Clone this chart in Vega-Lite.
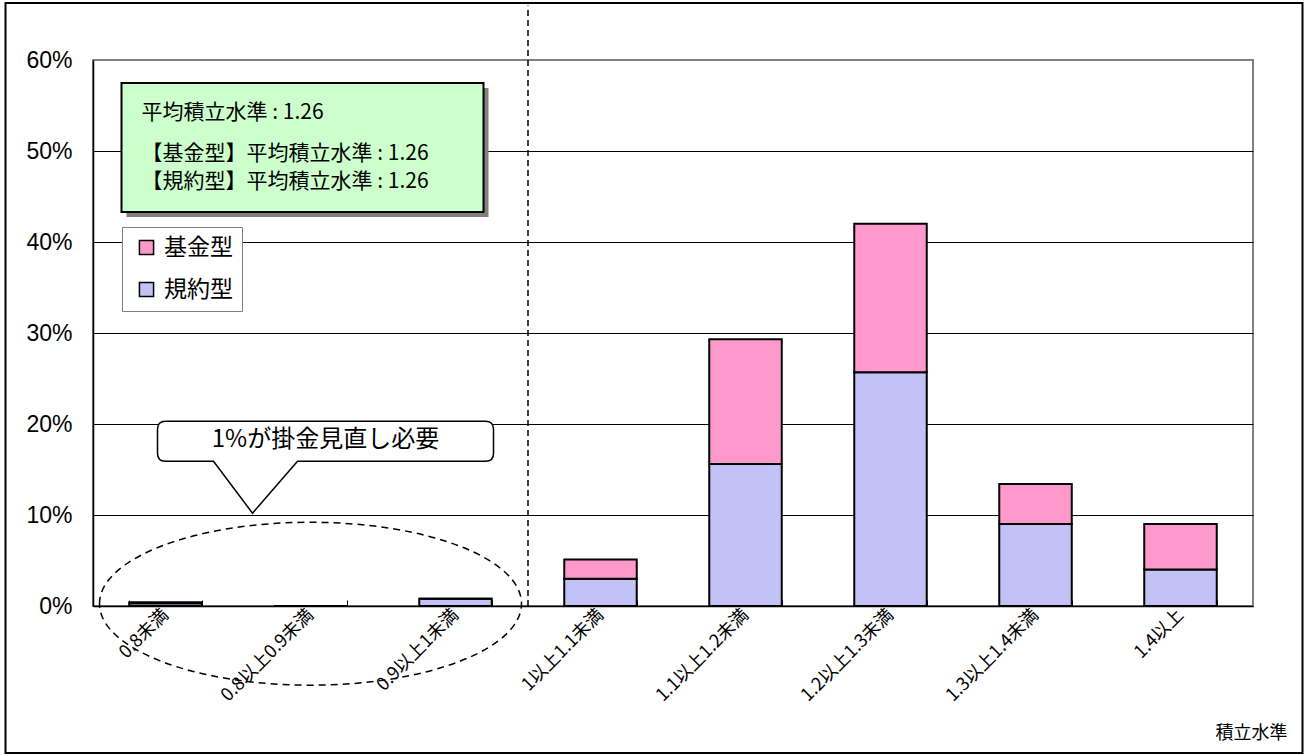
{
  "$schema": "https://vega.github.io/schema/vega-lite/v6.json",
  "autosize": {"type": "none"},
  "padding": {"left": 93, "top": 60, "right": 56, "bottom": 150},
  "width": 1160,
  "height": 546,
  "background": "white",
  "config": {
    "font": "Noto Sans CJK JP",
    "view": {"stroke": "#808080", "strokeWidth": 2},
    "legend": {
      "orient": "none",
      "legendX": 29,
      "legendY": 167,
      "padding": 9,
      "strokeColor": "#808080",
      "fillColor": "white",
      "labelFontSize": 23,
      "labelFont": "Noto Sans CJK JP",
      "labelColor": "black",
      "symbolType": "square",
      "symbolSize": 200,
      "symbolStrokeColor": "black",
      "symbolStrokeWidth": 1.5,
      "symbolOffset": 4,
      "labelOffset": 6,
      "rowPadding": 18,
      "labelLimit": 300
    }
  },
  "layer": [
    {
      "data": {"values": [{"k": "frame"}]},
      "mark": {
        "type": "point",
        "shape": "M -0.305,-0.33 L 0.992,-0.33 L 0.992,0.42 L -0.305,0.42 Z",
        "filled": false,
        "stroke": "black",
        "strokeWidth": 2,
        "opacity": 1,
        "size": 4000000
      },
      "encoding": {
        "x": {"datum": "0.8以上0.9未満"},
        "y": {"datum": 0.3}
      }
    },
    {
      "data": {
        "values": [
          {"level": "0.8未満", "type": "規約型", "share": 0.003},
          {"level": "0.8未満", "type": "基金型", "share": 0.001},
          {"level": "0.8以上0.9未満", "type": "規約型", "share": 0},
          {"level": "0.8以上0.9未満", "type": "基金型", "share": 0},
          {"level": "0.9以上1未満", "type": "規約型", "share": 0.008},
          {"level": "0.9以上1未満", "type": "基金型", "share": 0},
          {"level": "1以上1.1未満", "type": "規約型", "share": 0.03},
          {"level": "1以上1.1未満", "type": "基金型", "share": 0.021},
          {"level": "1.1以上1.2未満", "type": "規約型", "share": 0.156},
          {"level": "1.1以上1.2未満", "type": "基金型", "share": 0.137},
          {"level": "1.2以上1.3未満", "type": "規約型", "share": 0.257},
          {"level": "1.2以上1.3未満", "type": "基金型", "share": 0.163},
          {"level": "1.3以上1.4未満", "type": "規約型", "share": 0.09},
          {"level": "1.3以上1.4未満", "type": "基金型", "share": 0.044},
          {"level": "1.4以上", "type": "規約型", "share": 0.04},
          {"level": "1.4以上", "type": "基金型", "share": 0.05}
        ]
      },
      "mark": {"type": "bar", "stroke": "black", "strokeWidth": 2},
      "encoding": {
        "x": {
          "field": "level",
          "type": "nominal",
          "sort": null,
          "scale": {
            "domain": ["0.8未満", "0.8以上0.9未満", "0.9以上1未満", "1以上1.1未満", "1.1以上1.2未満", "1.2以上1.3未満", "1.3以上1.4未満", "1.4以上"],
            "paddingInner": 0.5,
            "paddingOuter": 0.25
          },
          "axis": {
            "title": "積立水準",
            "titleFontSize": 18,
            "titleFontWeight": "normal",
            "titleColor": "black",
            "titleX": 1194,
            "titleY": 127,
            "titleAlign": "right",
            "titleBaseline": "middle",
            "labelAngle": -45,
            "labelFontSize": 18,
            "labelColor": "black",
            "labelPadding": 12,
            "labelOverlap": false,
            "labelBound": false,
            "labelLimit": 300,
            "tickBand": "extent",
            "tickSize": -6,
            "tickColor": "black",
            "tickWidth": 1,
            "domainColor": "black",
            "domainWidth": 1.5
          }
        },
        "y": {
          "field": "share",
          "type": "quantitative",
          "stack": "zero",
          "scale": {"domain": [0, 0.6], "nice": false},
          "axis": {
            "title": null,
            "values": [0, 0.1, 0.2, 0.3, 0.4, 0.5, 0.6],
            "format": ".0%",
            "labelFont": "Liberation Sans",
            "labelFontSize": 23,
            "labelColor": "black",
            "labelPadding": 21,
            "ticks": false,
            "grid": true,
            "gridColor": {"condition": {"test": "datum.value >= 0.59", "value": "#808080"}, "value": "black"},
            "gridWidth": 1,
            "domainColor": "black",
            "domainWidth": 1.5
          }
        },
        "color": {
          "field": "type",
          "type": "nominal",
          "scale": {"domain": ["基金型", "規約型"], "range": ["#ff99cc", "#c2c2f6"]},
          "legend": {"title": null}
        },
        "order": {"field": "type", "sort": "descending"}
      }
    },
    {
      "data": {"values": [{"k": "divider"}]},
      "mark": {"type": "rule", "strokeDash": [6, 4], "strokeWidth": 1.5, "color": "black"},
      "encoding": {
        "x": {"datum": "1以上1.1未満", "bandPosition": -0.5},
        "y": {"datum": 0},
        "y2": {"datum": 0.66}
      }
    },
    {
      "data": {"values": [{"k": "ellipse"}]},
      "mark": {
        "type": "point",
        "shape": "M -1,0 C -1,-0.2132 -0.5523,-0.386 0,-0.386 C 0.5523,-0.386 1,-0.2132 1,0 C 1,0.2132 0.5523,0.386 0,0.386 C -0.5523,0.386 -1,0.2132 -1,0 Z",
        "filled": false,
        "stroke": "black",
        "strokeWidth": 1.5,
        "strokeDash": [7, 5],
        "opacity": 1,
        "size": 178084
      },
      "encoding": {
        "x": {"datum": "0.8以上0.9未満"},
        "y": {"datum": 0.0025}
      }
    },
    {
      "data": {"values": [{"k": "callout"}]},
      "mark": {
        "type": "point",
        "shape": "M -0.725,-0.105 L 0.875,-0.105 Q 0.915,-0.105 0.915,-0.065 L 0.915,0.055 Q 0.915,0.095 0.875,0.095 L -0.065,0.095 L -0.29,0.355 L -0.485,0.095 L -0.725,0.095 Q -0.765,0.095 -0.765,0.055 L -0.765,-0.065 Q -0.765,-0.105 -0.725,-0.105 Z",
        "filled": true,
        "fill": "white",
        "stroke": "black",
        "strokeWidth": 1.5,
        "opacity": 1,
        "size": 160000
      },
      "encoding": {
        "x": {"datum": "0.8以上0.9未満"},
        "y": {"datum": 0.18}
      }
    },
    {
      "data": {"values": [{"label": "1%が掛金見直し必要"}]},
      "mark": {"type": "text", "fontSize": 24, "color": "black", "align": "center", "baseline": "middle", "dx": 15},
      "encoding": {
        "x": {"datum": "0.8以上0.9未満"},
        "y": {"datum": 0.1824},
        "text": {"field": "label"}
      }
    },
    {
      "data": {"values": [{"k": "shadow"}]},
      "mark": {
        "type": "point",
        "shape": "M -0.92,-0.315 L 0.89,-0.315 L 0.89,0.33 L -0.92,0.33 Z",
        "filled": true,
        "fill": "#808080",
        "strokeWidth": 0,
        "opacity": 1,
        "size": 160000
      },
      "encoding": {
        "x": {"datum": "0.8以上0.9未満"},
        "y": {"datum": 0.5}
      }
    },
    {
      "data": {"values": [{"k": "box"}]},
      "mark": {
        "type": "point",
        "shape": "M -0.945,-0.34 L 0.865,-0.34 L 0.865,0.305 L -0.945,0.305 Z",
        "filled": true,
        "fill": "#ccffcc",
        "stroke": "black",
        "strokeWidth": 2,
        "opacity": 1,
        "size": 160000
      },
      "encoding": {
        "x": {"datum": "0.8以上0.9未満"},
        "y": {"datum": 0.5}
      }
    },
    {
      "data": {
        "values": [
          {"line": "平均積立水準 : 1.26", "pos": 0.542},
          {"line": "【基金型】平均積立水準 : 1.26", "pos": 0.4967},
          {"line": "【規約型】平均積立水準 : 1.26", "pos": 0.4659}
        ]
      },
      "mark": {"type": "text", "fontSize": 21, "color": "black", "align": "left", "baseline": "middle", "dx": -169},
      "encoding": {
        "x": {"datum": "0.8以上0.9未満"},
        "y": {"field": "pos", "type": "quantitative"},
        "text": {"field": "line"}
      }
    }
  ]
}
